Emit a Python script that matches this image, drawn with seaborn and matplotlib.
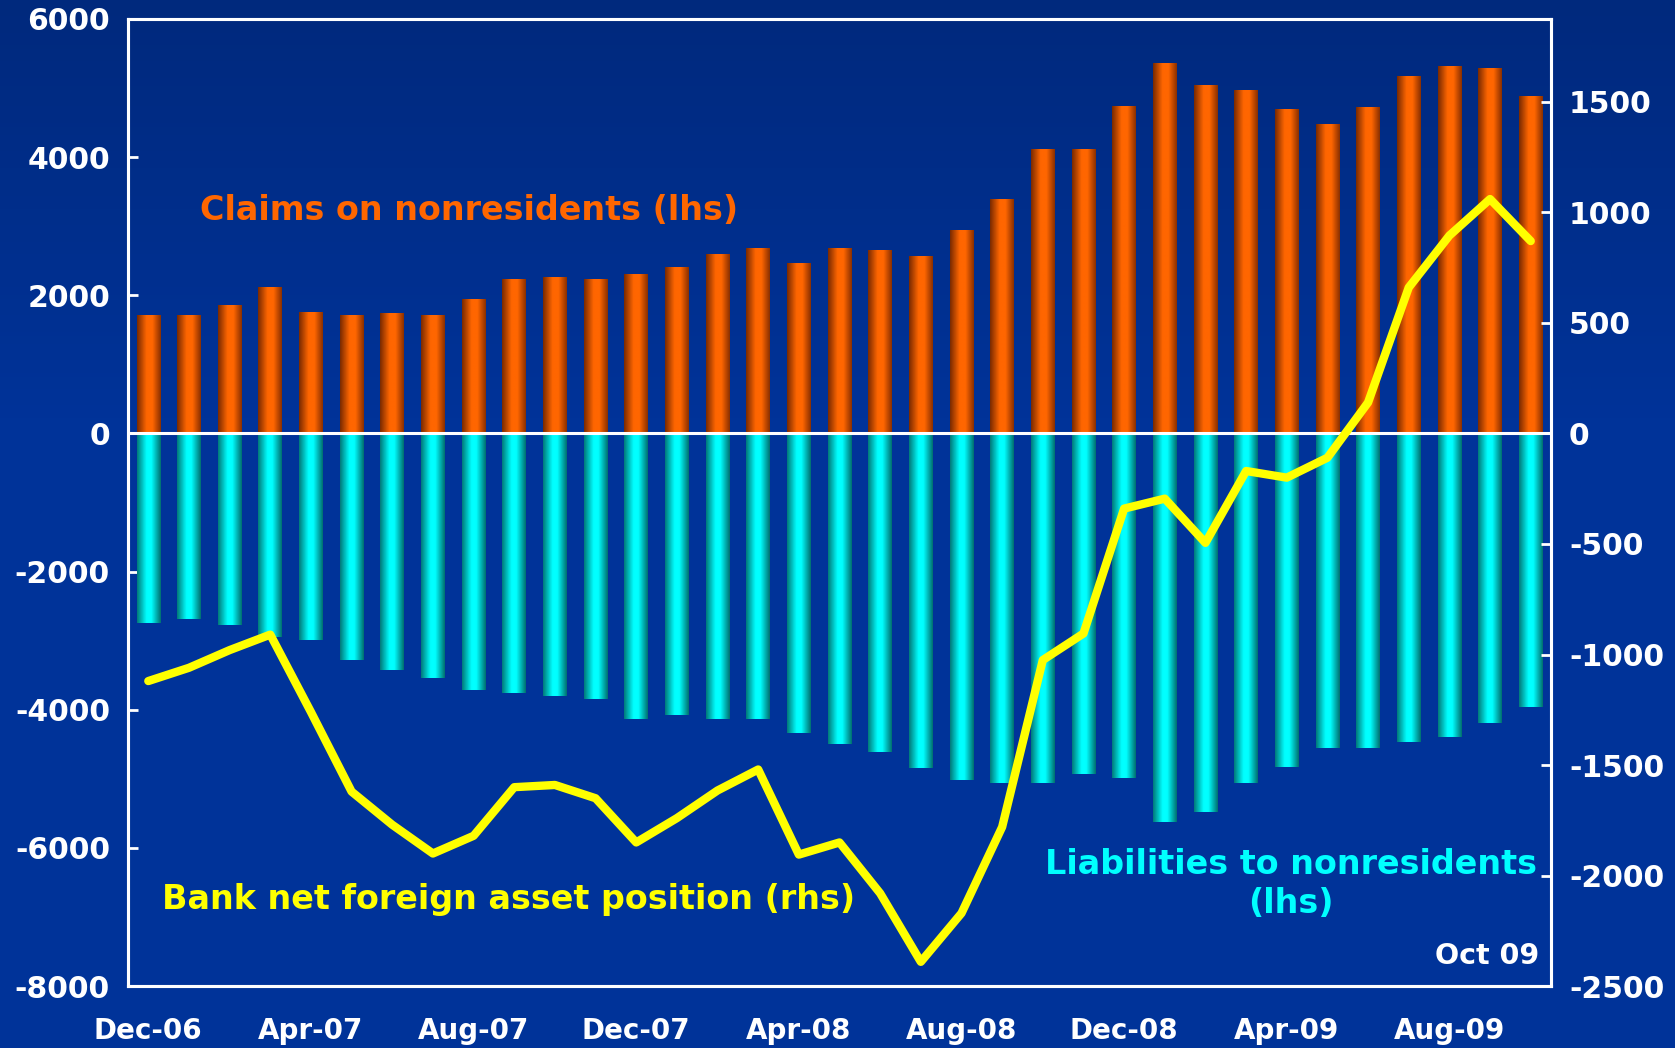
import numpy as np
import pandas as pd
import seaborn as sns
import matplotlib.pyplot as plt
from matplotlib.colors import LinearSegmentedColormap

# monthly data, Dec-06 .. Oct-09
months = pd.date_range('2006-12-01', '2009-10-01', freq='MS').strftime('%b-%y').tolist()

claims = [1700, 1700, 1850, 2100, 1750, 1700, 1730, 1700, 1930, 2220, 2250, 2220,
          2300, 2390, 2590, 2670, 2450, 2670, 2640, 2550, 2930, 3380, 4100, 4100,
          4720, 5350, 5030, 4960, 4680, 4460, 4710, 5160, 5310, 5270, 4870]

liabilities = [-2740, -2690, -2770, -2940, -2990, -3280, -3430, -3540, -3710, -3760, -3800, -3850,
               -4130, -4080, -4130, -4130, -4330, -4490, -4610, -4840, -5010, -5060, -5060, -4930,
               -4980, -5630, -5480, -5060, -4830, -4550, -4550, -4470, -4390, -4190, -3960]

net_position = [-1120, -1060, -980, -910, -1260, -1620, -1770, -1900, -1820, -1600, -1590, -1650,
                -1850, -1740, -1615, -1520, -1905, -1850, -2080, -2390, -2170, -1780, -1025, -905,
                -340, -295, -495, -170, -200, -110, 140, 660, 895, 1060, 870]

tick_labels = ['Dec-06', 'Apr-07', 'Aug-07', 'Dec-07', 'Apr-08', 'Aug-08', 'Dec-08', 'Apr-09', 'Aug-09']

BG = '#003399'
ORANGE = '#ff6600'
CYAN = '#00ffff'
YELLOW = '#ffff00'

df = pd.DataFrame({'month': months, 'claims': claims, 'liabilities': liabilities,
                   'net': net_position})
df['pos'] = np.arange(len(df))

sns.set_style('ticks')
plt.rcParams['font.family'] = ['DejaVu Sans']
plt.rcParams['axes.unicode_minus'] = False

fig = plt.figure(figsize=(16.75, 10.48), dpi=100)
fig.patch.set_facecolor(BG)

# background gradient (darker at the top)
bg = fig.add_axes([0, 0, 1, 1])
grad = np.clip(np.linspace(0, 1, 256) / 0.4, 0, 1).reshape(-1, 1)
bg_cmap = LinearSegmentedColormap.from_list('bg', ['#00297d', BG])
bg.imshow(grad, cmap=bg_cmap, aspect='auto', extent=[0, 1, 1, 0])
bg.axis('off')

ax = fig.add_axes([0.0764, 0.059, 0.8496, 0.923])
ax.set_facecolor('none')

sns.barplot(data=df, x='month', y='claims', color=ORANGE, saturation=1, width=0.58, ax=ax)
sns.barplot(data=df, x='month', y='liabilities', color=CYAN, saturation=1, width=0.58, ax=ax)

# horizontal shading on the bars
orange_cmap = LinearSegmentedColormap.from_list(
    'o', [(0, '#7a2a00'), (0.4, ORANGE), (0.65, ORANGE), (1, '#8a3000')])
cyan_cmap = LinearSegmentedColormap.from_list(
    'c', [(0, '#007a7a'), (0.4, CYAN), (0.6, CYAN), (1, '#007070')])
shade = np.linspace(0, 1, 64).reshape(1, -1)
for p in list(ax.patches):
    x0, y0 = p.get_x(), p.get_y()
    w, h = p.get_width(), p.get_height()
    cmap = orange_cmap if h > 0 else cyan_cmap
    ax.imshow(shade, cmap=cmap, aspect='auto', extent=[x0, x0 + w, y0, y0 + h],
              interpolation='bilinear', zorder=2)
    p.set_visible(False)

ax.axhline(0, color='white', lw=2.2, zorder=3)
ax.set_xlim(-0.5, len(months) - 0.5)
ax.set_ylim(-8000, 6000)
ax.set_yticks(range(-8000, 6001, 2000))
ax.set_xticks(df['pos'][::4])
ax.set_xticklabels(tick_labels)
ax.set_xlabel('')
ax.set_ylabel('')

ax2 = ax.twinx()
sns.lineplot(data=df, x='pos', y='net', color=YELLOW, linewidth=6, ax=ax2,
             solid_joinstyle='round', solid_capstyle='round', zorder=4)
ax2.set_ylim(-2500, 1875)
ax2.set_yticks(range(-2500, 1501, 500))
ax2.set_xlabel('')
ax2.set_ylabel('')

for a in (ax, ax2):
    for s in a.spines.values():
        s.set_color('white')
        s.set_linewidth(2.2)
        s.set_visible(True)
    a.tick_params(axis='y', direction='in', length=7, width=2, colors='white',
                  labelsize=21.5, pad=13)
    for lab in a.get_yticklabels():
        lab.set_fontweight('bold')
ax.tick_params(axis='x', length=0, colors='white', labelsize=20, pad=22)
for lab in ax.get_xticklabels():
    lab.set_fontweight('bold')

ax.text(7.9, 3220, 'Claims on nonresidents (lhs)', color=ORANGE, fontsize=24,
        fontweight='bold', ha='center', va='center', zorder=5)
ax.text(8.85, -6740, 'Bank net foreign asset position (rhs)', color=YELLOW, fontsize=24,
        fontweight='bold', ha='center', va='center', zorder=5)
ax.text(28.1, -6520, 'Liabilities to nonresidents\n(lhs)', color=CYAN, fontsize=24,
        fontweight='bold', ha='center', va='center', multialignment='center',
        linespacing=1.25, zorder=5)
ax.text(34.2, -7560, 'Oct 09', color='white', fontsize=20.5, fontweight='bold',
        ha='right', va='center', zorder=5)

fig.savefig('out.png', dpi=100, facecolor=fig.get_facecolor())
